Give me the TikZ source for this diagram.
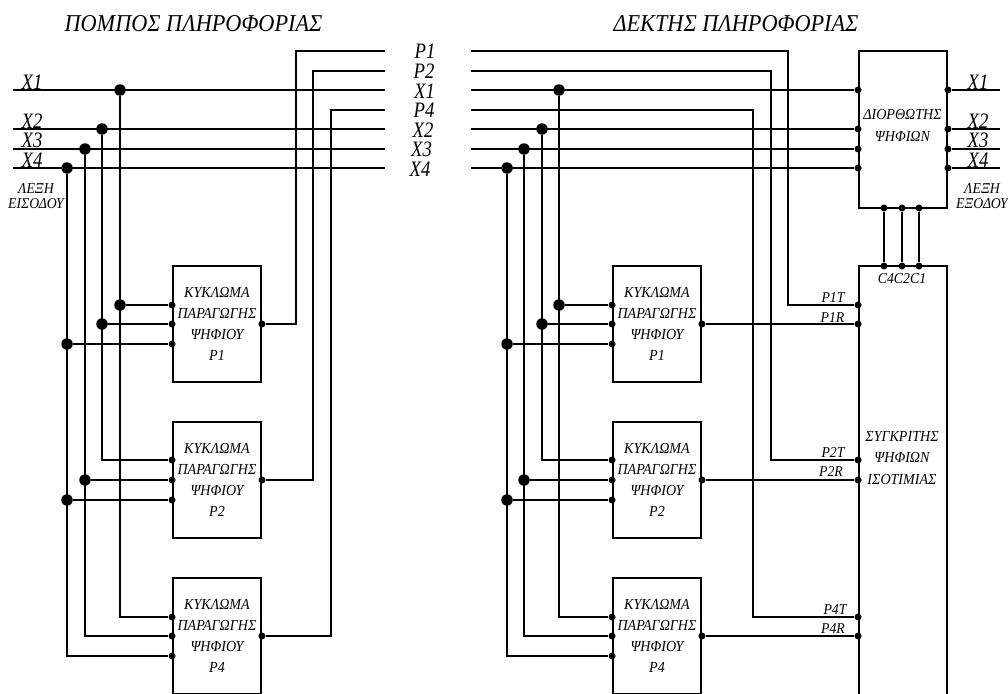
\documentclass[tikz,border=0pt]{standalone}
\usepackage{fontspec}
\newfontfamily\schemfont{Liberation Serif}[FakeStretch=0.92]
\newfontfamily\narrowfont{Liberation Serif}[FakeStretch=0.85]
\tikzset{
  wire/.style={line width=1.9pt},
  block/.style={draw, line width=1.9pt, minimum width=88pt, minimum height=116pt, inner sep=0pt, align=center,
    font=\schemfont\itshape\fontsize{15.3}{21}\selectfont},
  bigdot/.style={circle, fill=black, inner sep=0pt, minimum size=11.5pt},
  smalldot/.style={circle, fill=black, inner sep=0pt, minimum size=7pt},
  titletext/.style={inner sep=0pt, font=\schemfont\itshape\fontsize{24.2}{24}\selectfont},
  wiretext/.style={inner sep=0pt, font=\narrowfont\itshape\fontsize{22}{22}\selectfont},
  pintext/.style={inner sep=0pt, align=center, font=\schemfont\itshape\fontsize{15}{15}\selectfont},
  blocktext/.style={inner sep=0pt, align=center, font=\schemfont\itshape\fontsize{15.3}{21.5}\selectfont},
}
\begin{document}
\begin{tikzpicture}[x=1pt,y=-1pt]
  \clip (0,0) rectangle (1008,693);
  \node[titletext] (txTitle) at (193.5,24) {ΠΟΜΠΟΣ ΠΛΗΡΟΦΟΡΙΑΣ};
  \node[titletext] (rxTitle) at (736,24) {ΔΕΚΤΗΣ ΠΛΗΡΟΦΟΡΙΑΣ};

  % transmitter blocks
  \node[block] (genA) at (217,324) {ΚΥΚΛΩΜΑ\\ΠΑΡΑΓΩΓΗΣ\\ΨΗΦΙΟΥ\\P1};
  \node[block] (genB) at (217,480) {ΚΥΚΛΩΜΑ\\ΠΑΡΑΓΩΓΗΣ\\ΨΗΦΙΟΥ\\P2};
  \node[block] (genC) at (217,636) {ΚΥΚΛΩΜΑ\\ΠΑΡΑΓΩΓΗΣ\\ΨΗΦΙΟΥ\\P4};
  \node[smalldot] (genAinA) at ([yshift=19pt]genA.west) {};
  \node[smalldot] (genAinB) at (genA.west) {};
  \node[smalldot] (genAinC) at ([yshift=-20pt]genA.west) {};
  \node[smalldot] (genAout) at (genA.east) {};
  \node[smalldot] (genBinA) at ([yshift=20pt]genB.west) {};
  \node[smalldot] (genBinB) at (genB.west) {};
  \node[smalldot] (genBinC) at ([yshift=-20pt]genB.west) {};
  \node[smalldot] (genBout) at (genB.east) {};
  \node[smalldot] (genCinA) at ([yshift=19pt]genC.west) {};
  \node[smalldot] (genCinB) at (genC.west) {};
  \node[smalldot] (genCinC) at ([yshift=-20pt]genC.west) {};
  \node[smalldot] (genCout) at (genC.east) {};

  % receiver blocks
  \node[block] (chkA) at (657,324) {ΚΥΚΛΩΜΑ\\ΠΑΡΑΓΩΓΗΣ\\ΨΗΦΙΟΥ\\P1};
  \node[block] (chkB) at (657,480) {ΚΥΚΛΩΜΑ\\ΠΑΡΑΓΩΓΗΣ\\ΨΗΦΙΟΥ\\P2};
  \node[block] (chkC) at (657,636) {ΚΥΚΛΩΜΑ\\ΠΑΡΑΓΩΓΗΣ\\ΨΗΦΙΟΥ\\P4};
  \node[smalldot] (chkAinA) at ([yshift=19pt]chkA.west) {};
  \node[smalldot] (chkAinB) at (chkA.west) {};
  \node[smalldot] (chkAinC) at ([yshift=-20pt]chkA.west) {};
  \node[smalldot] (chkAout) at (chkA.east) {};
  \node[smalldot] (chkBinA) at ([yshift=20pt]chkB.west) {};
  \node[smalldot] (chkBinB) at (chkB.west) {};
  \node[smalldot] (chkBinC) at ([yshift=-20pt]chkB.west) {};
  \node[smalldot] (chkBout) at (chkB.east) {};
  \node[smalldot] (chkCinA) at ([yshift=19pt]chkC.west) {};
  \node[smalldot] (chkCinB) at (chkC.west) {};
  \node[smalldot] (chkCinC) at ([yshift=-20pt]chkC.west) {};
  \node[smalldot] (chkCout) at (chkC.east) {};

  % corrector and comparator
  \node[block, minimum height=157pt] (fix) at (903,129.5) {};
  \node[block, minimum height=460pt] (cmp) at (903,496) {};
  \node[blocktext] (fixText) at (902.5,125.5) {ΔΙΟΡΘΩΤΗΣ\\ΨΗΦΙΩΝ};
  \node[blocktext] (cmpText) at (902,458) {ΣΥΓΚΡΙΤΗΣ\\ΨΗΦΙΩΝ\\ΙΣΟΤΙΜΙΑΣ};

  % line ends
  \coordinate (txPa) at (385,51);
  \coordinate (txPb) at (385,71);
  \coordinate (txXa) at (385,90);
  \coordinate (txPc) at (385,110);
  \coordinate (txXb) at (385,129);
  \coordinate (txXc) at (385,149);
  \coordinate (txXd) at (385,168);
  \coordinate (rxPa) at (471,51);
  \coordinate (rxPb) at (471,71);
  \coordinate (rxXa) at (471,90);
  \coordinate (rxPc) at (471,110);
  \coordinate (rxXb) at (471,129);
  \coordinate (rxXc) at (471,149);
  \coordinate (rxXd) at (471,168);
  \coordinate (inXa) at (13,90);
  \coordinate (inXb) at (13,129);
  \coordinate (inXc) at (13,149);
  \coordinate (inXd) at (13,168);
  \coordinate (outXa) at (1000,90);
  \coordinate (outXb) at (1000,129);
  \coordinate (outXc) at (1000,149);
  \coordinate (outXd) at (1000,168);
  \coordinate (txTurnA) at (296,51);
  \coordinate (txTurnB) at (313,71);
  \coordinate (txTurnC) at (331,110);
  \coordinate (rxTurnA) at (788,51);
  \coordinate (rxTurnB) at (771,71);
  \coordinate (rxTurnC) at (753,110);

  % transmitter taps
  \node[bigdot] (tapXa) at (120,90) {};
  \node[bigdot] (tapXb) at (102,129) {};
  \node[bigdot] (tapXc) at (85,149) {};
  \node[bigdot] (tapXd) at (67,168) {};
  \node[bigdot] (tapAa) at (tapXa |- genAinA) {};
  \node[bigdot] (tapAb) at (tapXb |- genAinB) {};
  \node[bigdot] (tapAd) at (tapXd |- genAinC) {};
  \node[bigdot] (tapBc) at (tapXc |- genBinB) {};
  \node[bigdot] (tapBd) at (tapXd |- genBinC) {};

  % receiver taps
  \node[bigdot] (rapXa) at (559,90) {};
  \node[bigdot] (rapXb) at (542,129) {};
  \node[bigdot] (rapXc) at (524,149) {};
  \node[bigdot] (rapXd) at (507,168) {};
  \node[bigdot] (rapAa) at (rapXa |- chkAinA) {};
  \node[bigdot] (rapAb) at (rapXb |- chkAinB) {};
  \node[bigdot] (rapAd) at (rapXd |- chkAinC) {};
  \node[bigdot] (rapBc) at (rapXc |- chkBinB) {};
  \node[bigdot] (rapBd) at (rapXd |- chkBinC) {};

  % pins of the corrector and comparator
  \node[smalldot] (fixInA) at (fix.west |- inXa) {};
  \node[smalldot] (fixInB) at (fix.west |- inXb) {};
  \node[smalldot] (fixInC) at (fix.west |- inXc) {};
  \node[smalldot] (fixInD) at (fix.west |- inXd) {};
  \node[smalldot] (fixOutA) at (fix.east |- inXa) {};
  \node[smalldot] (fixOutB) at (fix.east |- inXb) {};
  \node[smalldot] (fixOutC) at (fix.east |- inXc) {};
  \node[smalldot] (fixOutD) at (fix.east |- inXd) {};
  \node[smalldot] (fixCd) at (884,208) {};
  \node[smalldot] (fixCb) at (902,208) {};
  \node[smalldot] (fixCa) at (919,208) {};
  \node[smalldot] (cmpCd) at (884,266) {};
  \node[smalldot] (cmpCb) at (902,266) {};
  \node[smalldot] (cmpCa) at (919,266) {};
  \node[smalldot] (cmpAT) at (cmp.west |- genAinA) {};
  \node[smalldot] (cmpAR) at (cmp.west |- genAout) {};
  \node[smalldot] (cmpBT) at (cmp.west |- genBinA) {};
  \node[smalldot] (cmpBR) at (cmp.west |- genBout) {};
  \node[smalldot] (cmpCT) at (cmp.west |- genCinA) {};
  \node[smalldot] (cmpCR) at (cmp.west |- genCout) {};

  % transmitter wiring
  \draw[wire] (inXa) -- (txXa);
  \draw[wire] (inXb) -- (txXb);
  \draw[wire] (inXc) -- (txXc);
  \draw[wire] (inXd) -- (txXd);
  \draw[wire] (tapXa) |- (genCinA);
  \draw[wire] (tapXb) |- (genBinA);
  \draw[wire] (tapXc) |- (genCinB);
  \draw[wire] (tapXd) |- (genCinC);
  \draw[wire] (tapAa) -- (genAinA);
  \draw[wire] (tapAb) -- (genAinB);
  \draw[wire] (tapAd) -- (genAinC);
  \draw[wire] (tapBc) -- (genBinB);
  \draw[wire] (tapBd) -- (genBinC);
  \draw[wire] (genAout) -| (txTurnA) -- (txPa);
  \draw[wire] (genBout) -| (txTurnB) -- (txPb);
  \draw[wire] (genCout) -| (txTurnC) -- (txPc);

  % receiver wiring
  \draw[wire] (rxXa) -- (fixInA);
  \draw[wire] (rxXb) -- (fixInB);
  \draw[wire] (rxXc) -- (fixInC);
  \draw[wire] (rxXd) -- (fixInD);
  \draw[wire] (rapXa) |- (chkCinA);
  \draw[wire] (rapXb) |- (chkBinA);
  \draw[wire] (rapXc) |- (chkCinB);
  \draw[wire] (rapXd) |- (chkCinC);
  \draw[wire] (rapAa) -- (chkAinA);
  \draw[wire] (rapAb) -- (chkAinB);
  \draw[wire] (rapAd) -- (chkAinC);
  \draw[wire] (rapBc) -- (chkBinB);
  \draw[wire] (rapBd) -- (chkBinC);
  \draw[wire] (rxPa) -- (rxTurnA) |- (cmpAT);
  \draw[wire] (rxPb) -- (rxTurnB) |- (cmpBT);
  \draw[wire] (rxPc) -- (rxTurnC) |- (cmpCT);
  \draw[wire] (chkAout) -- (cmpAR);
  \draw[wire] (chkBout) -- (cmpBR);
  \draw[wire] (chkCout) -- (cmpCR);
  \draw[wire] (fixOutA) -- (outXa);
  \draw[wire] (fixOutB) -- (outXb);
  \draw[wire] (fixOutC) -- (outXc);
  \draw[wire] (fixOutD) -- (outXd);
  \draw[wire] (fixCd) -- (cmpCd);
  \draw[wire] (fixCb) -- (cmpCb);
  \draw[wire] (fixCa) -- (cmpCa);

  % labels
  \node[wiretext] (labInA) at (32,82) {X1};
  \node[wiretext] (labInB) at (32,121) {X2};
  \node[wiretext] (labInC) at (32,140) {X3};
  \node[wiretext] (labInD) at (32,160) {X4};
  \node[wiretext] (labOutA) at (978,82) {X1};
  \node[wiretext] (labOutB) at (978,121) {X2};
  \node[wiretext] (labOutC) at (978,140) {X3};
  \node[wiretext] (labOutD) at (978,160) {X4};
  \node[wiretext] (labMidA) at (425,51) {P1};
  \node[wiretext] (labMidB) at (424,71) {P2};
  \node[wiretext] (labMidC) at (424.5,91) {X1};
  \node[wiretext] (labMidD) at (424,110) {P4};
  \node[wiretext] (labMidE) at (423,130) {X2};
  \node[wiretext] (labMidF) at (421.5,149) {X3};
  \node[wiretext] (labMidG) at (420,169) {X4};
  \node[pintext] (labWordIn) at (36,196.5) {ΛΕΞΗ\\ΕΙΣΟΔΟΥ};
  \node[pintext] (labWordOut) at (982,196.5) {ΛΕΞΗ\\ΕΞΟΔΟΥ};
  \node[pintext] (labCs) at (902,279) {C4C2C1};
  \node[pintext] (labAT) at (833,298) {P1T};
  \node[pintext] (labAR) at (832.5,317.5) {P1R};
  \node[pintext] (labBT) at (833,453) {P2T};
  \node[pintext] (labBR) at (831,472) {P2R};
  \node[pintext] (labCT) at (835,610) {P4T};
  \node[pintext] (labCR) at (833,629) {P4R};
\end{tikzpicture}
\end{document}
